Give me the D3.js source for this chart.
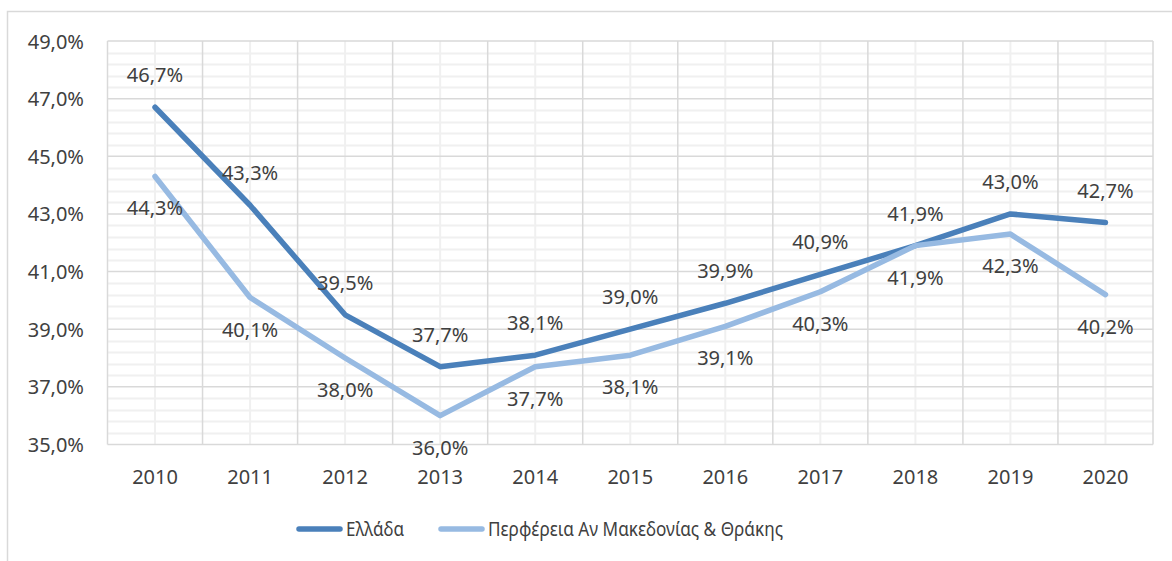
<!DOCTYPE html>
<html><head><meta charset="utf-8">
<script src="https://cdn.jsdelivr.net/npm/d3@7"></script>
<style>
html,body{margin:0;padding:0;background:#fff;}
svg{display:block;font-family:"Noto Sans",sans-serif;}
</style></head>
<body>
<svg id="chart" width="1172" height="561"></svg>
<script>
const years = ["2010","2011","2012","2013","2014","2015","2016","2017","2018","2019","2020"];
const greece = [46.7,43.3,39.5,37.7,38.1,39.0,39.9,40.9,41.9,43.0,42.7];
const region = [44.3,40.1,38.0,36.0,37.7,38.1,39.1,40.3,41.9,42.3,40.2];
const seriesNames = ["Ελλάδα","Περφέρεια Αν Μακεδονίας & Θράκης"];
const yTicks = [35,37,39,41,43,45,47,49];

const svg = d3.select("#chart");
const L = 107.5, R = 1153, T = 41, B = 444.5;
const x = d3.scaleBand().domain(years).range([L,R]).padding(0);
const y = d3.scaleLinear().domain([35,49]).range([B,T]);
const fmt = v => v.toFixed(1).replace(".", ",");
const txtColor = "#404040";
const FS = 20;

// outer border
svg.append("path").attr("d",`M7.5,561 V11.5 H1172`).attr("fill","none").attr("stroke","#d9d9d9").attr("stroke-width",1.5);

// minor horizontal grid
const minor = d3.range(35,49.001,0.4).filter(v=>Math.abs(((v-35)/2)-Math.round((v-35)/2))>0.01);
svg.append("g").selectAll("line").data(minor).join("line")
  .attr("x1",L).attr("x2",R).attr("y1",d=>Math.round(y(d))+0.5).attr("y2",d=>Math.round(y(d))+0.5)
  .attr("stroke","#f0f0f0").attr("stroke-width",2);
// minor vertical grid (category centers)
svg.append("g").selectAll("line").data(years).join("line")
  .attr("x1",d=>x(d)+x.bandwidth()/2).attr("x2",d=>x(d)+x.bandwidth()/2).attr("y1",T).attr("y2",B)
  .attr("stroke","#f0f0f0").attr("stroke-width",2);
// major horizontal grid
svg.append("g").selectAll("line").data(yTicks).join("line")
  .attr("x1",L).attr("x2",R).attr("y1",d=>y(d)).attr("y2",d=>y(d))
  .attr("stroke","#d9d9d9").attr("stroke-width",1.5);
// major vertical grid (category boundaries)
const bounds = years.map(d=>x(d)).concat([R]);
svg.append("g").selectAll("line").data(bounds).join("line")
  .attr("x1",d=>d).attr("x2",d=>d).attr("y1",T).attr("y2",B)
  .attr("stroke","#d9d9d9").attr("stroke-width",1.5);

// y axis labels
const yAxis = d3.axisLeft(y).tickValues(yTicks).tickFormat(d=>fmt(d)+"%").tickSize(0).tickPadding(0);
const gy = svg.append("g").attr("transform",`translate(84,0)`).call(yAxis);
gy.select(".domain").remove();
gy.selectAll("text").attr("font-size",FS).attr("fill",txtColor).attr("font-family","Noto Sans").attr("dy","0.35em");

// x axis labels
const xAxis = d3.axisBottom(x).tickSize(0).tickPadding(0);
const gx = svg.append("g").attr("transform",`translate(0,${B+22})`).call(xAxis);
gx.select(".domain").remove();
gx.selectAll("text").attr("font-size",FS).attr("fill",txtColor).attr("font-family","Noto Sans").attr("dy","0.35em").attr("y",10);

const colors = ["#4a80ba","#97bae2"];
const line = d3.line().x((d,i)=>x(years[i])+x.bandwidth()/2).y(d=>y(d));
[greece,region].forEach((s,k)=>{
  svg.append("path").datum(s).attr("d",line).attr("fill","none")
    .attr("stroke",colors[k]).attr("stroke-width",5.5).attr("stroke-linejoin","round").attr("stroke-linecap","round");
});
// labels
[[greece,-32],[region,32]].forEach(([s,off])=>{
  svg.append("g").selectAll("text").data(s).join("text")
    .attr("x",(d,i)=>x(years[i])+x.bandwidth()/2).attr("y",d=>y(d)+off)
    .attr("dy","0.35em").attr("text-anchor","middle").attr("font-size",FS).attr("fill",txtColor)
    .text(d=>fmt(d)+"%");
});

// legend
const leg = [{x:297, name:seriesNames[0], c:colors[0], w:58},{x:439, name:seriesNames[1], c:colors[1], w:295}];
leg.forEach(l=>{
  svg.append("line").attr("x1",l.x+2).attr("x2",l.x+43).attr("y1",529).attr("y2",529)
    .attr("stroke",l.c).attr("stroke-width",5.5).attr("stroke-linecap","round");
  svg.append("text").attr("x",l.x+49).attr("y",529).attr("dy","0.35em").attr("font-size",FS)
    .attr("textLength",l.w).attr("lengthAdjust","spacingAndGlyphs")
    .attr("fill",txtColor).text(l.name);
});
</script>
</body></html>
